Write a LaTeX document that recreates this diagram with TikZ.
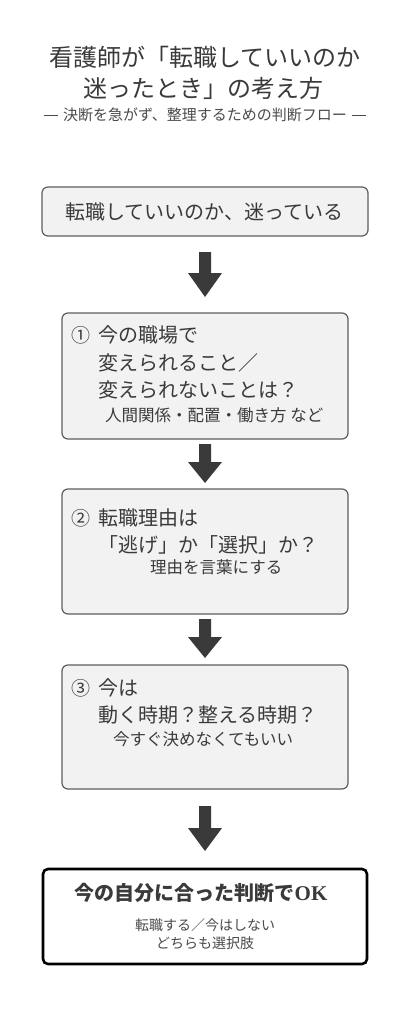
\documentclass[tikz,border=0pt]{standalone}
\usepackage{fontspec}
\setmainfont{Noto Sans CJK JP}
\newfontfamily\okfont{Liberation Serif}
\usetikzlibrary{calc}
\definecolor{txt}{HTML}{3A3A3A}
\definecolor{subtxt}{HTML}{4A4A4A}
\definecolor{boxfill}{HTML}{F2F2F2}
\definecolor{boxline}{HTML}{5E5E5E}
\definecolor{arrowc}{HTML}{3A3A3A}
\tikzset{
  stepbox/.style={draw=boxline, line width=1.2pt, fill=boxfill, rounded corners=6pt, minimum width=286pt, inner sep=0pt},
  widebox/.style={stepbox, minimum width=326pt},
  finalbox/.style={draw=black, line width=2.6pt, fill=white, rounded corners=5pt, minimum width=324pt, minimum height=95pt, inner sep=0pt},
  maintext/.style={text=txt, font=\fontsize{20}{24}\selectfont, inner sep=0pt, anchor=west},
  smalltext/.style={text=txt, font=\fontsize{16.5}{20}\selectfont, inner sep=0pt, anchor=west},
  numtext/.style={text=txt, font=\fontsize{19}{22}\selectfont, inner sep=0pt, anchor=west},
  fat/.style={fill=arrowc}
}
\newcommand{\fatarrow}[4]{% name, top, headstart, tip
  \fill[fat] (199,#2) -- (211,#2) -- (211,#3) -- (222,#3) -- (205,#4) -- (188,#3) -- (199,#3) -- cycle;
  \coordinate (#1) at (205,#4);
}
\newcommand{\longdash}{\rule[0.3em]{14pt}{0.9pt}}
\begin{document}
\begin{tikzpicture}[x=1pt,y=-1pt]
\useasboundingbox (0,0) rectangle (410,1024);
\fill[white] (0,0) rectangle (410,1024);
% title
\node[text=txt, font=\fontsize{24}{28}\selectfont, inner sep=0pt] (t1) at (205,57) {看護師が「転職していいのか};
\node[text=txt, font=\fontsize{24}{28}\selectfont, inner sep=0pt] (t2) at (203,88) {迷ったとき」の考え方};
\node[text=subtxt, font=\fontsize{15}{18}\selectfont, inner sep=0pt] (t3) at (205,115) {\longdash\hspace{5pt}決断を急がず、整理するための判断フロー\hspace{5pt}\longdash};
% box 0
\node[widebox, minimum height=49pt] (b0) at (205,211.5) {};
\node[text=txt, font=\fontsize{20}{24}\selectfont, inner sep=0pt] (b0t) at (204,212) {転職していいのか、迷っている};
\fatarrow{a1}{252}{273}{297}
% box 1
\node[stepbox, minimum height=126pt] (b1) at (205,376) {};
\node[numtext] (b1n) at (71,335) {①};
\node[maintext] (b1a) at (98,335) {今の職場で};
\node[maintext] (b1b) at (98,363) {変えられること／};
\node[maintext] (b1c) at (98,390) {変えられないことは？};
\node[smalltext] (b1d) at (105,415) {人間関係・配置・働き方 など};
\fatarrow{a2}{444}{462}{483}
% box 2
\node[stepbox, minimum height=125pt] (b2) at (205,551.5) {};
\node[numtext] (b2n) at (71,518) {②};
\node[maintext] (b2a) at (98,518) {転職理由は};
\node[maintext] (b2b) at (98,545) {「逃げ」か「選択」か？};
\node[smalltext] (b2c) at (150,567) {理由を言葉にする};
\fatarrow{a3}{619}{637}{658}
% box 3
\node[stepbox, minimum height=124pt] (b3) at (205,727) {};
\node[numtext] (b3n) at (71,688) {③};
\node[maintext] (b3a) at (98,688) {今は};
\node[maintext] (b3b) at (98,715) {動く時期？整える時期？};
\node[smalltext] (b3c) at (113,739) {今すぐ決めなくてもいい};
\fatarrow{a4}{806}{828}{851}
% final box
\node[finalbox] (b4) at (205,916.5) {};
\node[text=txt, font=\fontsize{20}{24}\selectfont\bfseries, inner sep=0pt] (b4a) at (201,893) {今の自分に合った判断で{\okfont\bfseries\fontsize{21}{24}\selectfont OK}};
\node[text=subtxt, font=\fontsize{14}{18}\selectfont, inner sep=0pt] (b4b) at (205,925) {転職する／今はしない};
\node[text=subtxt, font=\fontsize{14}{18}\selectfont, inner sep=0pt] (b4c) at (205,943) {どちらも選択肢};
\end{tikzpicture}
\end{document}
